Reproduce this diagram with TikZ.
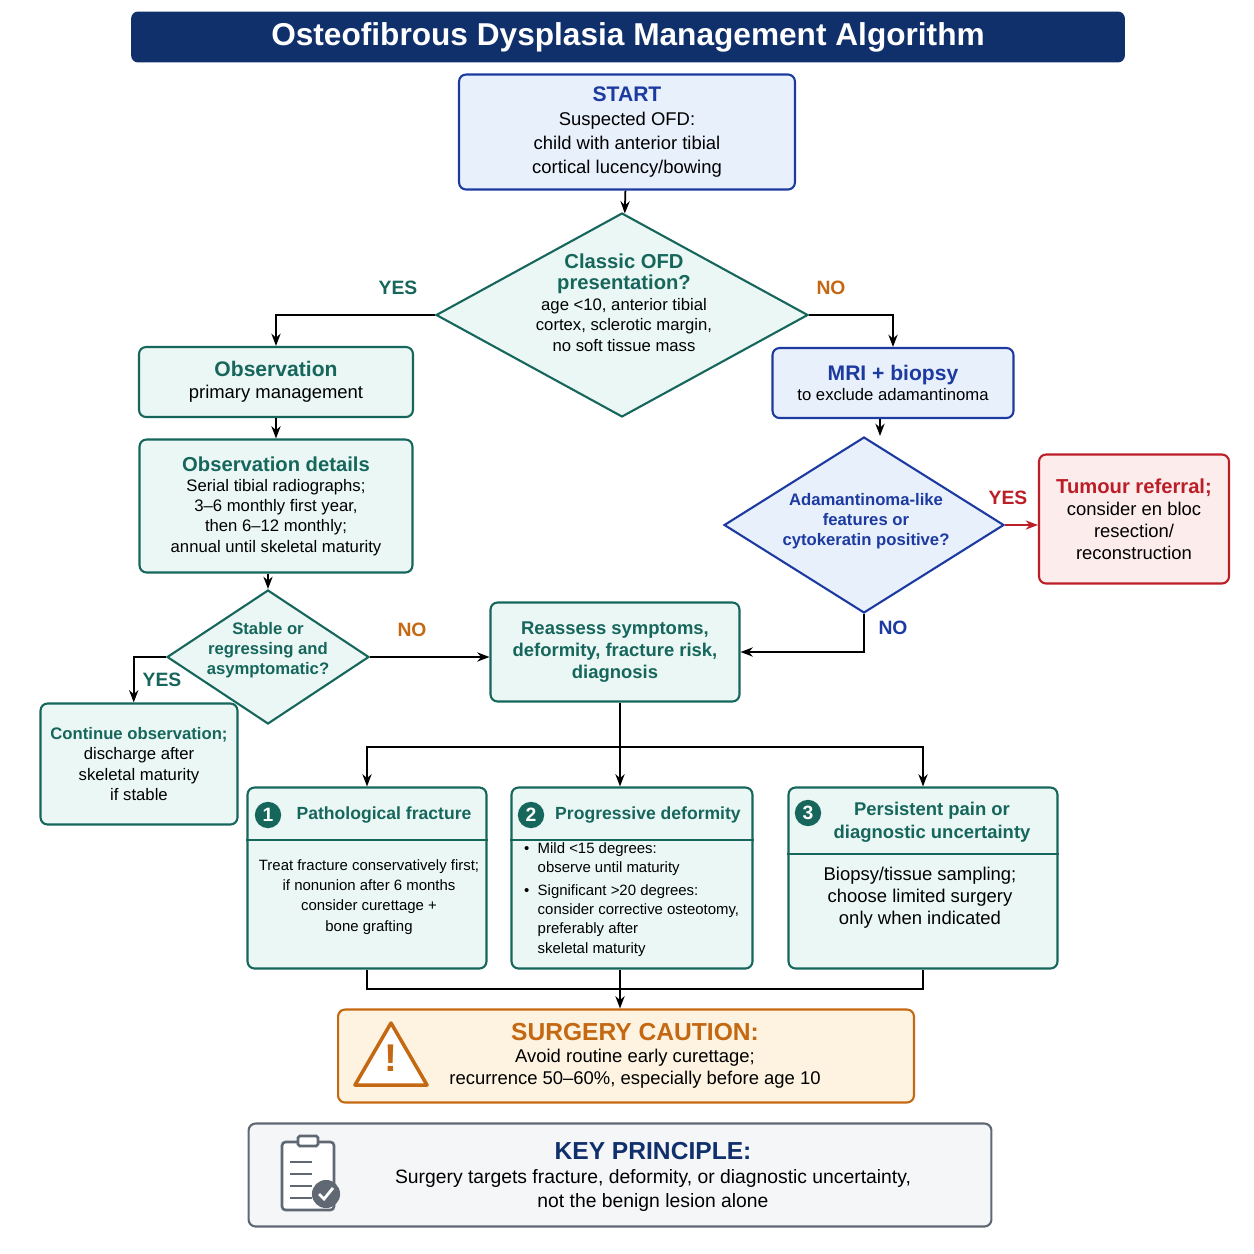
\documentclass[tikz,border=0pt]{standalone}
\usepackage{fontspec}
\setmainfont{Liberation Sans}
\usetikzlibrary{shapes.geometric,arrows.meta}
\definecolor{titlenavy}{RGB}{16,48,108}
\definecolor{ofdteal}{RGB}{22,102,92}
\definecolor{tealfill}{RGB}{234,247,245}
\definecolor{ofdblue}{RGB}{28,58,160}
\definecolor{bluefill}{RGB}{232,240,252}
\definecolor{refred}{RGB}{188,30,40}
\definecolor{redfill}{RGB}{253,236,236}
\definecolor{cautorange}{RGB}{196,104,18}
\definecolor{orangefill}{RGB}{253,243,224}
\definecolor{keygray}{RGB}{96,104,116}
\definecolor{grayfill}{RGB}{244,246,248}
\newcommand{\tealhd}[1]{{\bfseries\fontsize{11.5}{13.5}\selectfont\color{ofdteal}#1}}
\tikzset{
  box/.style={draw=ofdteal, fill=tealfill, line width=1.2pt, rounded corners=4pt, align=center, font=\fontsize{10.5}{12.5}\selectfont},
  bluebox/.style={box, draw=ofdblue, fill=bluefill},
  dia/.style={diamond, draw=ofdteal, fill=tealfill, line width=1.2pt, inner sep=0pt},
  flow/.style={-{Stealth[length=7pt]}, line width=1pt},
  yes/.style={font=\bfseries\fontsize{11}{13}\selectfont, text=ofdteal},
  no/.style={font=\bfseries\fontsize{11}{13}\selectfont, text=cautorange},
  hd/.style={font=\bfseries\fontsize{10}{12.5}\selectfont, text=ofdteal},
  numdot/.style={circle, fill=ofdteal, text=white, font=\bfseries\fontsize{11}{11}\selectfont, inner sep=0pt, minimum size=15pt},
}
\begin{document}
\begin{tikzpicture}[x=0.02cm, y=-0.02cm]
    \useasboundingbox (0,0) rectangle (1254,1254);
    % Title
    \node[fill=titlenavy, rounded corners=4pt, text=white, minimum width=19.88cm, minimum height=1.02cm,
          font=\bfseries\fontsize{18}{20}\selectfont] (title) at (628,37) {Osteofibrous Dysplasia Management Algorithm};

    % Start and first decision
    \node[bluebox, minimum width=6.72cm, minimum height=2.3cm, font=\fontsize{10.5}{13.5}\selectfont] (start) at (627,132)
        {{\bfseries\fontsize{12}{14}\selectfont\color{ofdblue}START}\\Suspected OFD:\\child with anterior tibial\\cortical lucency/bowing};
    \node[dia, minimum width=7.44cm, minimum height=4.08cm] (classic) at (622,315) {};
    \node[align=center, font=\fontsize{9.5}{11.8}\selectfont] (classict) at (624,303)
        {\tealhd{Classic OFD}\\\tealhd{presentation?}\\age {<}10, anterior tibial\\cortex, sclerotic margin,\\no soft tissue mass};
    \node[yes] (yes1) at (398,288) {YES};
    \node[no] (no1) at (831,288) {NO};

    % Observation branch
    \node[box, minimum width=5.48cm, minimum height=1.4cm] (obs) at (276,382)
        {{\bfseries\fontsize{12}{14}\selectfont\color{ofdteal}Observation}\\primary management};
    \node[box, minimum width=5.46cm, minimum height=2.66cm, font=\fontsize{9.5}{11.5}\selectfont] (det) at (276,506)
        {\tealhd{Observation details}\\Serial tibial radiographs;\\3--6 monthly first year,\\then 6--12 monthly;\\annual until skeletal maturity};
    \node[dia, minimum width=4.04cm, minimum height=2.68cm] (stab) at (268,657) {};
    \node[align=center, font=\bfseries\fontsize{9.5}{11.5}\selectfont, text=ofdteal] (stabt) at (268,650)
        {Stable or\\regressing and\\asymptomatic?};
    \node[yes] (yes2) at (162,680) {YES};
    \node[no] (no2) at (412,630) {NO};
    \node[box, minimum width=3.94cm, minimum height=2.42cm, font=\fontsize{9.5}{11.5}\selectfont] (cont) at (139,764)
        {{\bfseries\color{ofdteal}Continue observation;}\\discharge after\\skeletal maturity\\if stable};

    % Biopsy branch
    \node[bluebox, minimum width=4.82cm, minimum height=1.4cm, font=\fontsize{9.5}{11.5}\selectfont] (mri) at (893,383)
        {{\bfseries\fontsize{12}{14}\selectfont\color{ofdblue}MRI + biopsy}\\to exclude adamantinoma};
    \node[dia, draw=ofdblue, fill=bluefill, minimum width=5.6cm, minimum height=3.52cm] (adam) at (864,525) {};
    \node[align=center, font=\bfseries\fontsize{9.5}{11.5}\selectfont, text=ofdblue] (adamt) at (866,521)
        {Adamantinoma-like\\features or\\cytokeratin positive?};
    \node[box, draw=refred, fill=redfill, minimum width=3.8cm, minimum height=2.58cm] (tum) at (1134,519)
        {{\bfseries\fontsize{11.5}{13.5}\selectfont\color{refred}Tumour referral;}\\consider en bloc\\resection/\\reconstruction};
    \node[font=\bfseries\fontsize{11}{13}\selectfont, text=refred] (yes3) at (1008,498) {YES};
    \node[font=\bfseries\fontsize{11}{13}\selectfont, text=ofdblue] (no3) at (893,628) {NO};

    % Reassessment
    \node[box, minimum width=4.98cm, minimum height=1.98cm, font=\bfseries\fontsize{10.5}{12.5}\selectfont, text=ofdteal] (reas) at (615,652)
        {Reassess symptoms,\\deformity, fracture risk,\\diagnosis};
    \coordinate (split) at (620,747);
    \coordinate (join) at (620,989);

    % Three indications
    \node[box, minimum width=4.78cm, minimum height=3.62cm] (b1) at (367,878) {};
    \node[box, minimum width=4.82cm, minimum height=3.62cm] (b2) at (632,878) {};
    \node[box, minimum width=5.38cm, minimum height=3.62cm] (b3) at (923,878) {};
    \draw[ofdteal, line width=1pt] (b1.west |- 0,840) -- (b1.east |- 0,840);
    \draw[ofdteal, line width=1pt] (b2.west |- 0,840) -- (b2.east |- 0,840);
    \draw[ofdteal, line width=1pt] (b3.west |- 0,854) -- (b3.east |- 0,854);
    \node[numdot] (n1) at (268,815) {1};
    \node[numdot] (n2) at (531,815) {2};
    \node[numdot] (n3) at (808,813) {3};
    \node[hd] (h1) at (384,815) {Pathological fracture};
    \node[hd] (h2) at (648,815) {Progressive deformity};
    \node[hd, align=center, font=\bfseries\fontsize{10.5}{13}\selectfont] (h3) at (932,822) {Persistent pain or\\diagnostic uncertainty};
    \node[align=center, font=\fontsize{8.5}{11.5}\selectfont] (t1) at (369,897)
        {Treat fracture conservatively first;\\if nonunion after 6 months\\consider curettage +\\bone grafting};
    \node[align=left, anchor=north west, font=\fontsize{8.5}{11}\selectfont] (t2) at (518,836)
        {\textbullet\ \ Mild {<}15 degrees:\\\phantom{\textbullet\ \ }observe until maturity\\[2pt]
         \textbullet\ \ Significant {>}20 degrees:\\\phantom{\textbullet\ \ }consider corrective osteotomy,\\\phantom{\textbullet\ \ }preferably after\\\phantom{\textbullet\ \ }skeletal maturity};
    \node[align=center, font=\fontsize{10.5}{12.5}\selectfont] (t3) at (920,898)
        {Biopsy/tissue sampling;\\choose limited surgery\\only when indicated};

    % Caution and principle
    \node[box, draw=cautorange, fill=orangefill, minimum width=11.52cm, minimum height=1.86cm] (caut) at (626,1056) {};
    \node[align=center, font=\fontsize{10.5}{12.5}\selectfont] (cautt) at (635,1056)
        {{\bfseries\fontsize{14}{16}\selectfont\color{cautorange}SURGERY CAUTION:}\\Avoid routine early curettage;\\recurrence 50--60\%, especially before age 10};
    \draw[cautorange, line width=2pt, line join=round, fill=white] (391,1023) -- (427,1085) -- (355,1085) -- cycle;
    \node[text=cautorange, font=\bfseries\fontsize{22}{22}\selectfont] (bang) at (391,1058) {!};
    \node[box, draw=keygray, fill=grayfill, minimum width=14.86cm, minimum height=2.06cm] (key) at (620,1175) {};
    \node[align=center, font=\fontsize{11}{13.5}\selectfont] (keyt) at (653,1177)
        {{\bfseries\fontsize{14}{16}\selectfont\color{titlenavy}KEY PRINCIPLE:}\\Surgery targets fracture, deformity, or diagnostic uncertainty,\\not the benign lesion alone};
    \draw[keygray, line width=1.5pt, rounded corners=2pt, fill=white] (282,1142) rectangle (334,1210);
    \draw[keygray, line width=1.5pt, fill=white, rounded corners=1pt] (298,1136) rectangle (318,1146);
    \foreach \yy in {1162,1174,1186,1198}
        \draw[keygray, line width=1.3pt] (290,\yy) -- (312,\yy);
    \node[circle, fill=keygray, minimum size=16pt, inner sep=0pt] (tick) at (326,1194) {};
    \draw[white, line width=1.6pt] (319,1194) -- (324,1199) -- (333,1188);

    % Connectors
    \draw[flow] (start) -- (classic);
    \draw[flow] (classic.west) -| (obs.north);
    \draw[flow] (classic.east) -| (mri.north);
    \draw[flow] (obs) -- (det);
    \draw[flow] (det.south -| stab.north) -- (stab.north);
    \draw[flow] (stab.west) -| ([xshift=-3pt]cont.north);
    \draw[flow] (stab.east) -- (stab.east -| reas.west);
    \draw[flow] (mri.south -| 880,0) -- (adam.north -| 880,0);
    \draw[flow, refred] (adam.east) -- (adam.east -| tum.west);
    \draw[flow] (adam.south) |- (reas.east);
    \draw[line width=1pt] (reas.south -| split) -- (split);
    \draw[flow] (split) -| (b1.north);
    \draw[flow] (split) -| (b3.north);
    \draw[flow] (split) -- (split |- b2.north);
    \draw[line width=1pt] (b1.south) |- (join) -| (b3.south);
    \draw[line width=1pt] (split |- b2.south) -- (join);
    \draw[flow] (join) -- (join |- caut.north);
\end{tikzpicture}
\end{document}
